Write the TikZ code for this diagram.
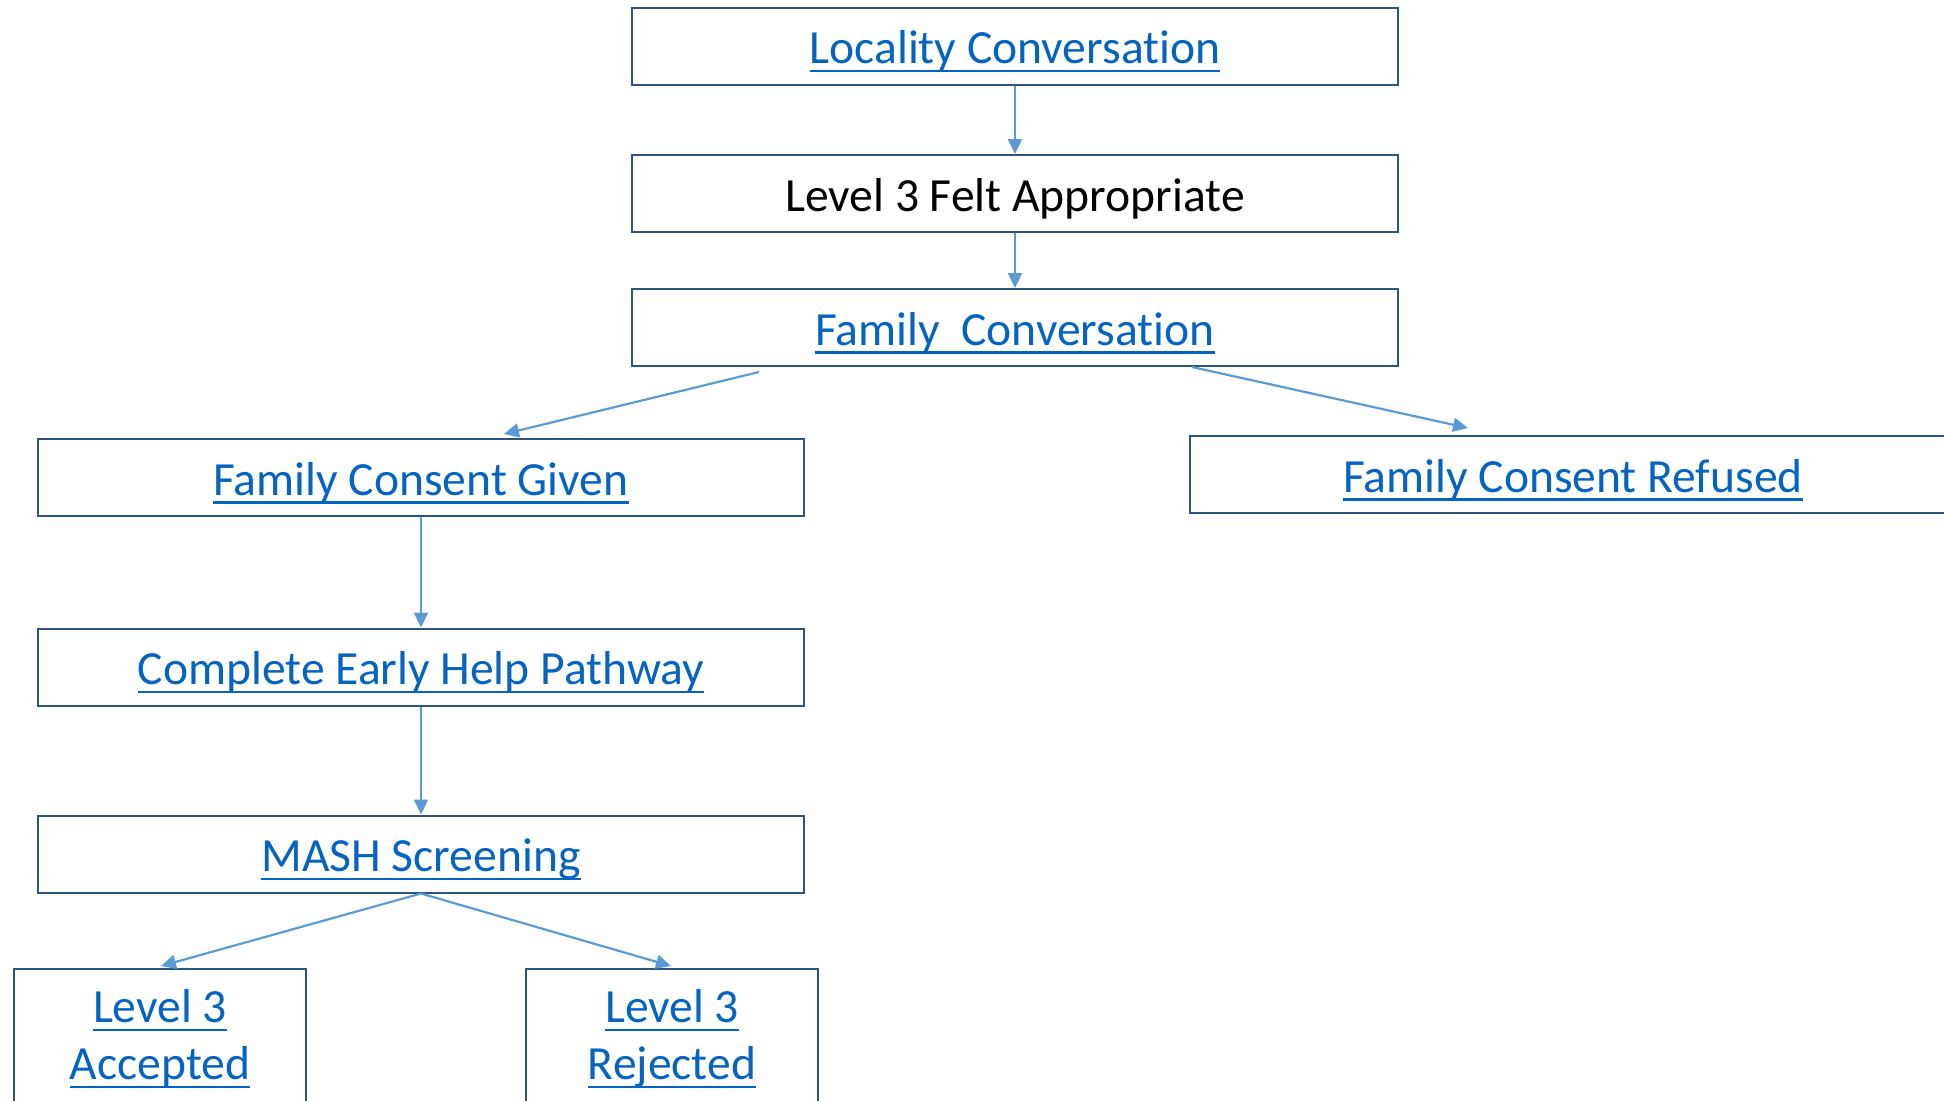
\documentclass[tikz,border=0pt]{standalone}
\usepackage{fontspec}
\setmainfont[Ligatures=NoCommon]{Carlito}
\usetikzlibrary{calc,arrows.meta}
\definecolor{boxline}{HTML}{2E5480}
\definecolor{linkblue}{HTML}{0563C1}
\definecolor{flowblue}{HTML}{5B9BD5}
\newcommand{\lnk}[1]{\textcolor{linkblue}{\setbox0\hbox{#1}\rlap{\rule[-4.4pt]{\wd0}{1.4pt}}\box0}}
\tikzset{
  boxbase/.style={draw=boxline, line width=1pt, inner sep=0pt, align=center, font=\fontsize{23.8}{28.5}\selectfont},
  stagebox/.style={boxbase, minimum width=383pt, minimum height=38.5pt, text height=19pt, text depth=1.4pt},
  smallbox/.style={boxbase, minimum width=146pt, minimum height=70pt},
  flow/.style={draw=flowblue, line width=1.1pt, -{Triangle[length=7.5pt, width=7pt]}}
}
\begin{document}
\begin{tikzpicture}[x=0.5pt,y=-0.5pt]
		\useasboundingbox (0,0) rectangle (1944,1100);
		
		%%%%% BOXES %%%%%
		\node[stagebox] (locality) at (1015, 46) {\lnk{Locality Conversation}};
		\node[stagebox] (felt) at (1015, 193.5) {Level 3 Felt Appropriate};
		\node[stagebox] (family) at (1015, 327.5) {\lnk{Family\ \ Conversation}};
		
		\node[stagebox] (given) at (421, 477.5) {\lnk{Family Consent Given}};
		\node[stagebox] (refused) at (1573, 474.5) {\lnk{Family Consent Refused}};
		
		\node[stagebox] (pathway) at (421, 667) {\lnk{Complete Early Help Pathway}};
		\node[stagebox] (mash) at (421, 854) {\lnk{MASH Screening}};
		
		\node[smallbox] (accepted) at (160, 1039) {\lnk{Level 3}\\\lnk{Accepted}};
		\node[smallbox] (rejected) at (672, 1039) {\lnk{Level 3}\\\lnk{Rejected}};
		
		%%%%% ARROWS %%%%%
		\draw[flow] (locality.south) -- (felt.north);
		\draw[flow] (felt.south) -- (family.north);
		
		\draw[flow] ($(family.south west)+(128,5)$) -- ($(given.north west)+(467,-4)$);
		\draw[flow] ($(family.south west)+(561,0)$) -- ($(refused.north west)+(279,-7)$);
		
		\draw[flow] (given.south) -- (pathway.north);
		\draw[flow] (pathway.south) -- (mash.north);
		
		\draw[flow] (mash.south) -- ($(accepted.north)+(1,-2)$);
		\draw[flow] (mash.south) -- ($(rejected.north)+(-1,-2)$);
		
\end{tikzpicture}
\end{document}
